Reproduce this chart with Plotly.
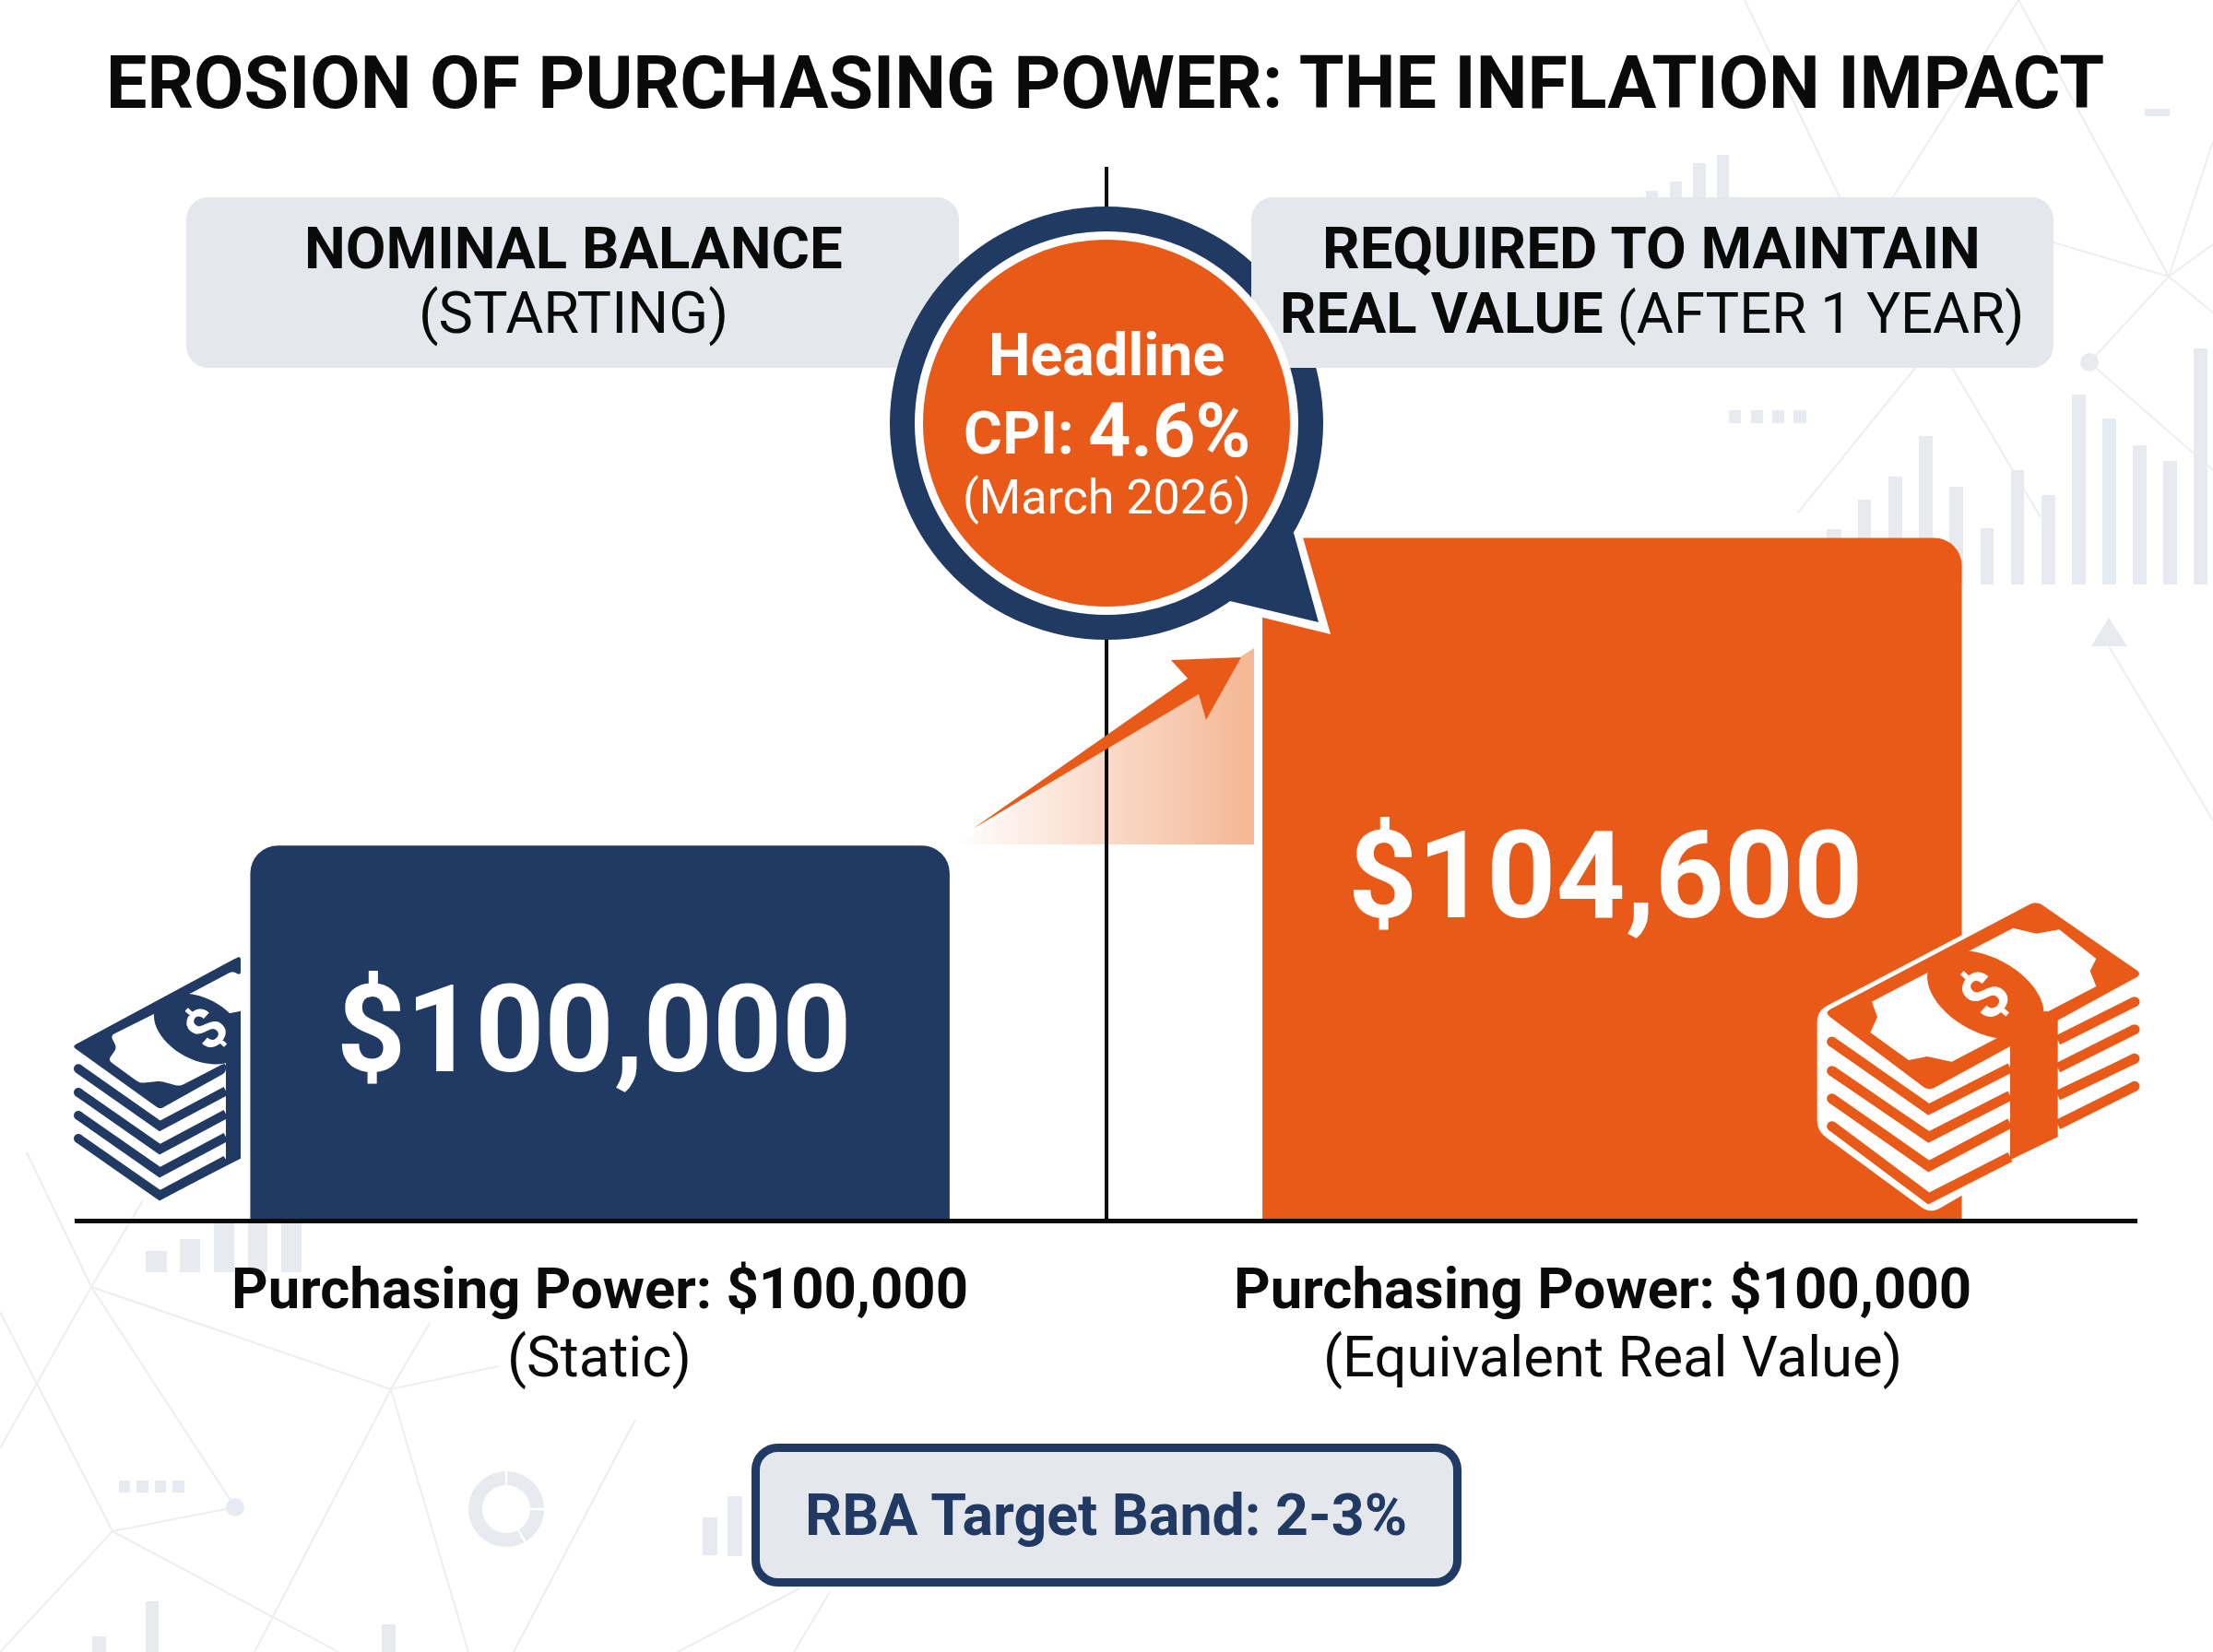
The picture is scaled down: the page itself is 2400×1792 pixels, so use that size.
import math
import plotly.graph_objects as go

# ---------- chart data ----------
categories = ["Nominal balance", "Required to maintain real value"]
values = [100000, 104600]
bar_colors = ["#213A63", "#E95A18"]
title_text = "EROSION OF PURCHASING POWER: THE INFLATION IMPACT"
power_labels = ["Purchasing Power: $100,000", "Purchasing Power: $100,000"]
power_notes = ["(Static)", "(Equivalent Real Value)"]
cpi_value = "4.6%"
y_floor = 94420
y_ceil = 110150

W, H = 2400, 1792
NAVY, ORANGE, BOX, FAINT, LINE = "#213A63", "#E95A18", "#E4E7EC", "#E7EAEE", "#EDEEF0"
FONT = "Roboto"
shapes, notes = [], []


def fx(x): return x / W
def fy(y): return 1 - y / H


def path_of(pts, close=True):
    d = "M" + " L".join(f"{fx(x):.5f},{fy(y):.5f}" for x, y in pts)
    return d + (" Z" if close else "")


def poly(pts, fill, layer="above"):
    shapes.append(dict(type="path", xref="paper", yref="paper", path=path_of(pts),
                       fillcolor=fill, line=dict(width=0), layer=layer))


def stroke(pts, width, color, layer="above"):
    shapes.append(dict(type="path", xref="paper", yref="paper", path=path_of(pts, False),
                       fillcolor="rgba(0,0,0,0)", line=dict(width=width, color=color), layer=layer))


def disc(cx, cy, r, fill, layer="above", ry=None):
    ry = r if ry is None else ry
    shapes.append(dict(type="circle", xref="paper", yref="paper", x0=fx(cx - r), x1=fx(cx + r),
                       y0=fy(cy + ry), y1=fy(cy - ry), fillcolor=fill, line=dict(width=0), layer=layer))


def round_rect(x0, y0, x1, y1, r, fill, edge=None, edge_w=0):
    k = 0.45 * r
    d = (f"M{fx(x0 + r)},{fy(y0)} L{fx(x1 - r)},{fy(y0)} "
         f"C{fx(x1 - k)},{fy(y0)} {fx(x1)},{fy(y0 + k)} {fx(x1)},{fy(y0 + r)} "
         f"L{fx(x1)},{fy(y1 - r)} C{fx(x1)},{fy(y1 - k)} {fx(x1 - k)},{fy(y1)} {fx(x1 - r)},{fy(y1)} "
         f"L{fx(x0 + r)},{fy(y1)} C{fx(x0 + k)},{fy(y1)} {fx(x0)},{fy(y1 - k)} {fx(x0)},{fy(y1 - r)} "
         f"L{fx(x0)},{fy(y0 + r)} C{fx(x0)},{fy(y0 + k)} {fx(x0 + k)},{fy(y0)} {fx(x0 + r)},{fy(y0)} Z")
    shapes.append(dict(type="path", xref="paper", yref="paper", path=d, fillcolor=fill, layer="above",
                       line=dict(width=edge_w, color=edge) if edge else dict(width=0)))


def text(x, y, s, size, color="#0A0A0A", family=FONT, angle=0, anchor="center", xref="paper", yanchor="middle"):
    notes.append(dict(x=fx(x) if xref == "paper" else x, y=fy(y), xref=xref, yref="paper", text=s, showarrow=False,
                      xanchor=anchor, yanchor=yanchor, textangle=angle,
                      font=dict(size=size, color=color, family=family)))


# ---------- faint background ----------
bg_lines = [
    ((1892, 0), (1995, 214)), ((2189, 0), (2053, 214)), ((2189, 0), (2352, 300)), ((2227, 263), (2352, 300)),
    ((2266, 393), (2352, 300)), ((2352, 300), (2400, 265)), ((2352, 300), (2400, 339)), ((2352, 300), (2400, 153)),
    ((2266, 393), (2400, 510)), ((2077, 399), (1950, 556)), ((2117, 399), (2213, 561)), ((2287, 701), (2400, 890)),
    ((29, 1250), (99, 1396)), ((155, 1302), (99, 1396)), ((99, 1396), (424, 1507)), ((99, 1396), (255, 1635)),
    ((99, 1396), (0, 1571)), ((0, 1423), (122, 1661)), ((255, 1635), (122, 1661)), ((466, 1435), (424, 1507)),
    ((540, 1482), (424, 1507)), ((424, 1507), (276, 1792)), ((424, 1507), (508, 1792)), ((689, 1540), (557, 1792)),
    ((122, 1661), (367, 1792)), ((122, 1661), (0, 1792)), ((867, 1723), (735, 1792)), ((900, 1727), (861, 1792)),
]
for a, b in bg_lines:
    stroke([a, b], 2, LINE, layer="below")
bg_bars = [
    (1981, 1997, 574, 634), (2015, 2029, 542, 634), (2048, 2063, 517, 634), (2081, 2096, 473, 634),
    (2114, 2129, 528, 634), (2148, 2162, 573, 634), (2181, 2195, 510, 634), (2214, 2229, 537, 634),
    (2247, 2262, 428, 634), (2280, 2295, 454, 634), (2313, 2328, 483, 634), (2346, 2361, 500, 634),
    (2379, 2394, 378, 634), (1785, 1798, 207, 220), (1811, 1824, 197, 220), (1836, 1850, 177, 220),
    (1862, 1875, 168, 220), (1875, 1888, 445, 459), (1899, 1912, 445, 459), (1922, 1935, 445, 459),
    (1945, 1959, 445, 459), (2326, 2353, 118, 126), (158, 181, 1357, 1380), (195, 217, 1344, 1380),
    (232, 254, 1327, 1380), (269, 290, 1327, 1380), (305, 327, 1327, 1380), (129, 141, 1606, 1619),
    (148, 161, 1606, 1619), (168, 180, 1606, 1619), (187, 200, 1606, 1619), (762, 778, 1646, 1687),
    (789, 805, 1623, 1688), (100, 115, 1775, 1792), (158, 172, 1737, 1792), (414, 429, 1762, 1792),
]
for x0, x1, y0, y1 in bg_bars:
    poly([(x0, y0), (x1, y0), (x1, y1), (x0, y1)], FAINT, layer="below")
poly([(2287, 670), (2268, 701), (2307, 701)], FAINT, layer="below")
disc(2266, 393, 10, FAINT, layer="below")
disc(255, 1635, 10, FAINT, layer="below")
for a0, a1 in [(92, 298), (302, 358), (2, 88)]:
    n = 24
    angs = [math.radians(a0 + (a1 - a0) * i / n) for i in range(n + 1)]
    outer = [(549 + 41 * math.cos(t), 1637 - 41 * math.sin(t)) for t in angs]
    inner = [(549 + 26 * math.cos(t), 1637 - 26 * math.sin(t)) for t in reversed(angs)]
    poly(outer + inner, FAINT, layer="below")

# ---------- gradient wedge, centre line, arrow ----------
n = 48
for i in range(n):
    xa = 1038 + 322 * i / n
    xb = 1038 + 322 * (i + 1) / n + (1 if i < n - 1 else 0)
    ya = 916 - 213 * (xa - 1038) / 322
    yb = 916 - 213 * (xb - 1038) / 322
    t = (i + 1) / n
    col = "rgb(%d,%d,%d)" % (255 - 10 * t, 255 - 71 * t, 255 - 105 * t)
    poly([(xa, ya), (xb, yb), (xb, 916), (xa, 916)], col)
stroke([(1200, 181), (1200, 1322)], 4, "#0A0A0A")
poly([(1055, 899), (1288, 736), (1270, 716), (1346, 713), (1308, 781), (1300, 753)], ORANGE)

# ---------- header boxes and bubble ----------
round_rect(202, 214, 1040, 399, 24, BOX)
poly([(1320, 560), (1413, 570), (1413, 583), (1443, 688), (1370, 670), (1320, 660)], "#FFFFFF")
disc(1200, 459, 235, NAVY)
poly([(1403, 578), (1430, 675), (1334, 652), (1270, 600)], NAVY)
round_rect(1357, 214, 2227, 399, 24, BOX)
disc(1200, 459, 208, "#FFFFFF")
disc(1200, 459, 199, ORANGE)
round_rect(819.5, 1570.5, 1580.5, 1716.5, 24, BOX, NAVY, 9)


# ---------- money stacks ----------
def tilted(cx, cy, a, b, deg, clip=None):
    out = []
    c, s = math.cos(math.radians(deg)), math.sin(math.radians(deg))
    for i in range(56):
        t = 2 * math.pi * i / 56
        u, v = a * math.cos(t), b * math.sin(t)
        x, y = cx + u * c - v * s, cy + u * s + v * c
        out.append((min(x, clip) if clip else x, y))
    return out


def rounded(pts, r):
    out = []
    m = len(pts)
    for i, p in enumerate(pts):
        a, b = pts[i - 1], pts[(i + 1) % m]
        la = math.dist(p, a)
        lb = math.dist(p, b)
        ra, rb = min(r, la / 2) / la, min(r, lb / 2) / lb
        s = (p[0] + (a[0] - p[0]) * ra, p[1] + (a[1] - p[1]) * ra)
        e = (p[0] + (b[0] - p[0]) * rb, p[1] + (b[1] - p[1]) * rb)
        for j in range(7):
            t = j / 6
            out.append(((1 - t) ** 2 * s[0] + 2 * t * (1 - t) * p[0] + t * t * e[0],
                        (1 - t) ** 2 * s[1] + 2 * t * (1 - t) * p[1] + t * t * e[1]))
    return out


def zoomed(pts, ox, oy):
    return [(ox + x / 3, oy + y / 3) for x, y in pts]


def navy_stack(ox=60, oy=1000):
    poly(zoomed(rounded([(55, 405), (603, 110), (603, 175), (577, 160), (435, 235), (330, 295), (180, 370), (200, 410),
                         (172, 450), (275, 525), (340, 518), (405, 535), (540, 465), (555, 460), (555, 490),
                         (340, 610)], 14), ox, oy), NAVY)
    poly(zoomed(tilted(468, 348, 158, 100, 28, clip=603), ox, oy), NAVY)
    poly(zoomed([(555, 300), (603, 290), (603, 770), (340, 905), (330, 880), (555, 770)], ox, oy), NAVY)
    for a, b, c in [((75, 478), (340, 664), (555, 550)), ((75, 555), (340, 740), (555, 625)),
                    ((75, 630), (340, 815), (555, 700)), ((75, 705), (340, 890), (555, 775))]:
        stroke(zoomed([a, b, c], ox, oy), 10, NAVY)
        disc(ox + a[0] / 3, oy + a[1] / 3, 5, NAVY)
    text(ox + 490 / 3, oy + 345 / 3, "<b>$</b>", 62, "#FFFFFF", angle=-48)


def orange_stack(ox=1950, oy=950):
    poly(zoomed(rounded([(62, 440), (775, 66), (1125, 320), (1125, 695), (430, 1100), (62, 830)], 36), ox, oy), "#FFFFFF")
    poly(zoomed(rounded([(85, 445), (775, 82), (1120, 320), (425, 700)], 24), ox, oy), ORANGE)
    poly(zoomed([(235, 510), (258, 460), (240, 410), (700, 170), (775, 188), (850, 175), (970, 270), (950, 310),
                 (970, 360), (500, 605), (420, 588), (360, 600)], ox, oy), "#FFFFFF")
    poly(zoomed(tilted(610, 388, 205, 122, 28), ox, oy), ORANGE)
    poly(zoomed([(690, 500), (805, 440), (845, 450), (845, 850), (690, 925), (690, 500)], ox, oy), ORANGE)
    for a, b, c in [((110, 540), (425, 760), (690, 625)), ((110, 635), (425, 850), (690, 715)),
                    ((110, 725), (425, 945), (690, 805)), ((110, 815), (425, 1050), (690, 915))]:
        stroke(zoomed([a, b, c], ox, oy), 11, ORANGE)
        disc(ox + a[0] / 3, oy + a[1] / 3, 5.5, ORANGE)
    for a, b in [((845, 535), (1095, 410)), ((845, 625), (1095, 500)), ((845, 715), (1095, 595)), ((845, 810), (1095, 685))]:
        stroke(zoomed([a, b], ox, oy), 11, ORANGE)
        disc(ox + b[0] / 3, oy + b[1] / 3, 5.5, ORANGE)
    text(ox + 608 / 3, oy + 388 / 3, "<b>$</b>", 72, "#FFFFFF", angle=-48)


navy_stack()
orange_stack()

# ---------- text ----------
text(1198, 90, f"<b>{title_text}</b>", 79)
text(622, 269, "<b>NOMINAL BALANCE</b>", 63.5)
text(622, 340, "(STARTING)", 63)
text(1791, 269, "<b>REQUIRED TO MAINTAIN</b>", 63.5)
text(1791, 340, "<b>REAL VALUE</b> (AFTER 1 YEAR)", 61.5)
text(1200, 385, "<b>Headline</b>", 64.5, "#FFFFFF")
text(1105, 471, "<b>CPI:</b>", 64, "#FFFFFF")
text(1268, 467, f"<b>{cpi_value}</b>", 81, "#FFFFFF")
text(1200, 539, "(March 2026)", 52, "#FFFFFF")
notes.append(dict(x=0, y=fy(1117), xref="x", yref="paper", text=f"<b>${values[0]:,}</b>", showarrow=False,
                  xshift=-7, font=dict(size=131, color="#FFFFFF", family=FONT)))
notes.append(dict(x=1, y=fy(950), xref="x", yref="paper", text=f"<b>${values[1]:,}</b>", showarrow=False,
                  xshift=-7, font=dict(size=131, color="#FFFFFF", family=FONT)))
text(650, 1398, f"<b>{power_labels[0]}</b>", 61.6)
text(650, 1472, power_notes[0], 61.5)
text(1738, 1398, f"<b>{power_labels[1]}</b>", 61.7)
text(1749, 1472, power_notes[1], 61.6)
text(1199, 1643, "<b>RBA Target Band: 2-3%</b>", 62.7, NAVY)

fig = go.Figure(go.Bar(x=categories, y=values, marker=dict(color=bar_colors, line=dict(width=0)),
                       width=0.691, hoverinfo="skip"))
fig.update_layout(
    width=W, height=H, autosize=False, margin=dict(l=0, r=0, t=0, b=0),
    paper_bgcolor="#FFFFFF", plot_bgcolor="rgba(0,0,0,0)", showlegend=False, barcornerradius=30,
    shapes=shapes, annotations=notes,
    xaxis=dict(domain=[81 / W, 2318 / W], type="category", range=[-0.519, 1.519], showgrid=False, zeroline=False,
               showticklabels=False, ticks="", showline=True, linecolor="#0A0A0A", linewidth=5),
    yaxis=dict(domain=[1 - 1322 / H, 1 - 181 / H], range=[y_floor, y_ceil], visible=False, showgrid=False,
               zeroline=False),
)
fig.write_html("out.html", post_script="document.body.style.margin='0';", config={"displayModeBar": False})
